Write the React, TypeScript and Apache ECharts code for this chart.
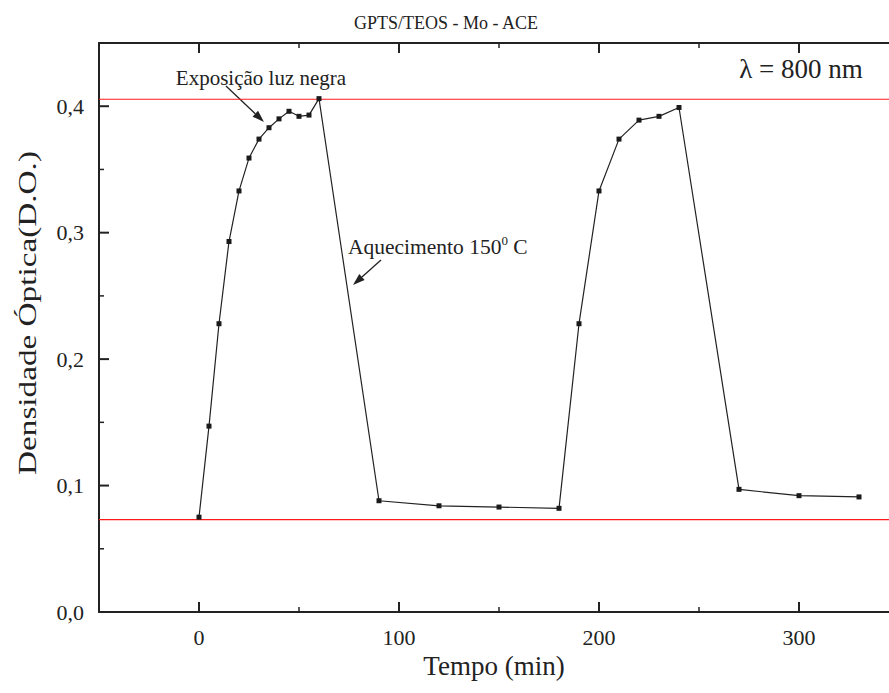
import React, { useEffect, useRef } from "react";
import * as echarts from "echarts";

const timeMin = [0, 5, 10, 15, 20, 25, 30, 35, 40, 45, 50, 55, 60, 90, 120, 150, 180, 190, 200, 210, 220, 230, 240, 270, 300, 330];
const opticalDensity = [0.075, 0.147, 0.228, 0.293, 0.333, 0.359, 0.374, 0.383, 0.39, 0.396, 0.392, 0.393, 0.406, 0.088, 0.084, 0.083, 0.082, 0.228, 0.333, 0.374, 0.389, 0.392, 0.399, 0.097, 0.092, 0.091];
const referenceLevels = [0.4055, 0.073];
const xRange = [-50, 345];
const yRange = [0, 0.45];
const xMajorTicks = [0, 100, 200, 300];
const xMinorTicks = [50, 150, 250];
const yMajorTicks = [0.1, 0.2, 0.3, 0.4];
const yMinorTicks = [0.05, 0.15, 0.25, 0.35];
const xTickLabels = [0, 100, 200, 300];
const yTickLabels = [0, 0.1, 0.2, 0.3, 0.4];

const FONT = "Liberation Serif";
const INK = "#222";
const RED = "#ff1a1a";

export default function App() {
  const ref = useRef<HTMLDivElement>(null);
  useEffect(() => {
    if (!ref.current) return;
    const chart = echarts.init(ref.current, null, { renderer: "svg" });
    const data = timeMin.map((t, i) => [t, opticalDensity[i]]);
    const visibleLine = { show: true, onZero: false, lineStyle: { color: INK, width: 2 } };
    const hidden = { show: false };
    const baseX = { type: "value", min: xRange[0], max: xRange[1], splitLine: hidden, axisTick: hidden };

    // inward tick marks, positioned through the axes' scales (api.coord), drawn as thin filled rects
    const xTickSeries = (values: number[], len: number, width: number) => ({
      type: "custom",
      xAxisIndex: 0,
      yAxisIndex: 0,
      silent: true,
      clip: false,
      z: 5,
      data: values.map((v) => [v, yRange[0]]),
      renderItem: (_p: any, api: any) => {
        const v = api.value(0);
        const b = api.coord([v, yRange[0]]);
        const t = api.coord([v, yRange[1]]);
        const st = { fill: INK };
        return {
          type: "group",
          children: [
            { type: "rect", shape: { x: b[0] - width / 2, y: b[1] - len, width, height: len }, style: st },
            { type: "rect", shape: { x: t[0] - width / 2, y: t[1], width, height: len }, style: st },
          ],
        };
      },
    });
    const yTickSeries = (values: number[], len: number, width: number) => ({
      type: "custom",
      xAxisIndex: 0,
      yAxisIndex: 0,
      silent: true,
      clip: false,
      z: 5,
      data: values.map((v) => [xRange[0], v]),
      renderItem: (_p: any, api: any) => {
        const v = api.value(1);
        const l = api.coord([xRange[0], v]);
        return { type: "rect", shape: { x: l[0], y: l[1] - width / 2, width: len, height: width }, style: { fill: INK } };
      },
    });

    const arrow = (tip: number[], from: number[]) => {
      const dx = tip[0] - from[0];
      const dy = tip[1] - from[1];
      const len = Math.hypot(dx, dy);
      const ux = dx / len, uy = dy / len;
      const L = 12, W = 4;
      const bx = tip[0] - L * ux, by = tip[1] - L * uy;
      const px = -uy * W, py = ux * W;
      return [
        { type: "line", shape: { x1: from[0], y1: from[1], x2: bx, y2: by }, style: { stroke: INK, lineWidth: 1.3 } },
        { type: "polygon", shape: { points: [tip, [bx + px, by + py], [bx - px, by - py]] }, style: { fill: INK } },
      ];
    };

    const refSeries = referenceLevels.map((lvl) => ({
      type: "line",
      xAxisIndex: 0,
      yAxisIndex: 0,
      data: [[xRange[0], lvl], [xRange[1], lvl]],
      symbol: "none",
      silent: true,
      lineStyle: { color: RED, width: 1.2 },
      itemStyle: { color: RED },
      z: 1,
    }));

    chart.setOption({
      animation: false,
      backgroundColor: "#fff",
      textStyle: { fontFamily: FONT },
      grid: { left: 99, right: 0, top: 43, bottom: 81, containLabel: false },
      xAxis: [
        {
          ...baseX,
          position: "bottom",
          axisLine: visibleLine,
          axisLabel: { show: true, customValues: xTickLabels, margin: 14, fontFamily: FONT, fontSize: 22, color: INK },
          name: "Tempo (min)",
          nameLocation: "middle",
          nameGap: 38,
          nameTextStyle: { fontFamily: FONT, fontSize: 27, color: INK },
        },
        { ...baseX, position: "top", axisLine: visibleLine, axisLabel: hidden },
      ],
      yAxis: {
        type: "value",
        min: yRange[0],
        max: yRange[1],
        position: "left",
        splitLine: hidden,
        axisTick: hidden,
        axisLine: visibleLine,
        axisLabel: {
          show: true,
          customValues: yTickLabels,
          margin: 15,
          fontFamily: FONT,
          fontSize: 22,
          color: INK,
          formatter: (v: number) => v.toFixed(1).replace(".", ","),
        },
      },
      series: [
        ...refSeries,
        {
          type: "line",
          xAxisIndex: 0,
          yAxisIndex: 0,
          data,
          symbol: "rect",
          symbolSize: 5,
          itemStyle: { color: "#1a1a1a" },
          lineStyle: { color: INK, width: 1.2 },
          z: 3,
        },
        xTickSeries(xMajorTicks, 10, 2),
        xTickSeries(xMinorTicks, 5, 1.5),
        yTickSeries(yMajorTicks, 10, 2),
        yTickSeries(yMinorTicks, 5, 1.5),
      ],
      graphic: [
        {
          type: "text",
          x: 446,
          y: 23,
          style: { text: "GPTS/TEOS - Mo - ACE", fontFamily: FONT, fontSize: 18, fill: INK, align: "center", verticalAlign: "middle" },
        },
        {
          type: "text",
          x: 801,
          y: 69,
          style: { text: "λ = 800 nm", fontFamily: FONT, fontSize: 27, fill: INK, align: "center", verticalAlign: "middle" },
        },
        {
          type: "text",
          x: 261,
          y: 78,
          style: { text: "Exposição luz negra", fontFamily: FONT, fontSize: 21, fill: INK, align: "center", verticalAlign: "middle" },
        },
        {
          type: "text",
          x: 348,
          y: 247,
          style: {
            text: "{a|Aquecimento 150}{s|0}{a| C}",
            fill: INK,
            align: "left",
            verticalAlign: "middle",
            rich: {
              a: { fontFamily: FONT, fontSize: 21.5, fill: INK, lineHeight: 26 },
              s: { fontFamily: FONT, fontSize: 13, fill: INK, lineHeight: 14, verticalAlign: "top" },
            },
          },
        },
        {
          type: "text",
          x: 28,
          y: 313,
          rotation: Math.PI / 2,
          scaleX: 1.33,
          style: { text: "Densidade Óptica(D.O.)", fontFamily: FONT, fontSize: 25, fill: INK, align: "center", verticalAlign: "middle" },
        },
        ...arrow([264, 122], [226, 86]),
        ...arrow([353, 285], [381, 260]),
      ],
    });
    return () => chart.dispose();
  }, []);
  return <div ref={ref} style={{ position: "absolute", left: 0, top: 0, width: 889, height: 693, background: "#fff" }} />;
}
